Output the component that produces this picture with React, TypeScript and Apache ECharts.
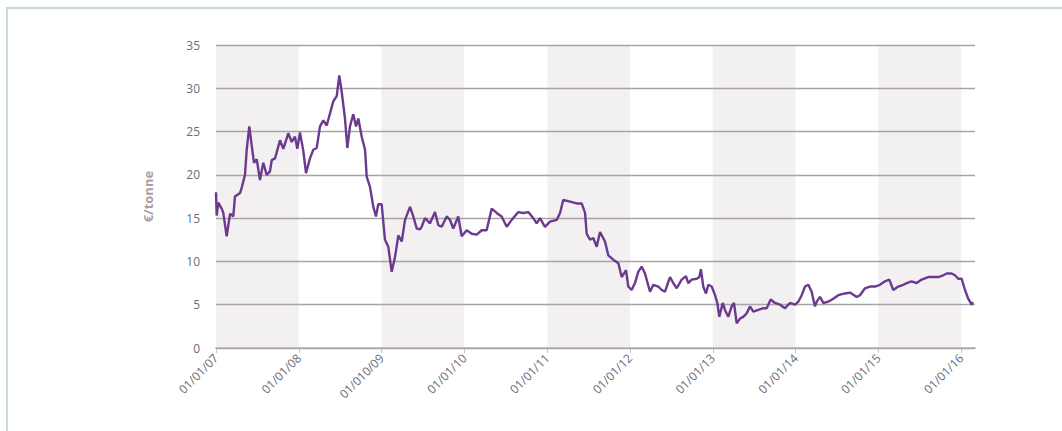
import React, { useEffect, useRef } from "react";
import * as echarts from "echarts";

// Decimal year of each observation
const dates: number[] = [
  2007.000, 2007.008, 2007.028, 2007.069, 2007.088, 2007.129, 2007.169, 2007.209, 2007.229, 2007.290,
  2007.310, 2007.350, 2007.371, 2007.402, 2007.431, 2007.459, 2007.492, 2007.531, 2007.571, 2007.612,
  2007.652, 2007.673, 2007.713, 2007.773, 2007.813, 2007.873, 2007.914, 2007.954, 2007.982, 2008.014,
  2008.054, 2008.087, 2008.135, 2008.175, 2008.216, 2008.256, 2008.296, 2008.337, 2008.377, 2008.417,
  2008.458, 2008.489, 2008.518, 2008.558, 2008.586, 2008.618, 2008.658, 2008.691, 2008.719, 2008.760,
  2008.800, 2008.820, 2008.860, 2008.900, 2008.932, 2008.960, 2009.001, 2009.041, 2009.081, 2009.122,
  2009.162, 2009.202, 2009.243, 2009.283, 2009.343, 2009.383, 2009.424, 2009.464, 2009.484, 2009.524,
  2009.585, 2009.645, 2009.685, 2009.726, 2009.786, 2009.826, 2009.866, 2009.926, 2009.967, 2010.028,
  2010.088, 2010.149, 2010.209, 2010.269, 2010.330, 2010.390, 2010.450, 2010.511, 2010.571, 2010.651,
  2010.711, 2010.772, 2010.832, 2010.873, 2010.913, 2010.973, 2011.034, 2011.115, 2011.155, 2011.194,
  2011.275, 2011.356, 2011.417, 2011.457, 2011.477, 2011.517, 2011.557, 2011.598, 2011.638, 2011.698,
  2011.738, 2011.798, 2011.859, 2011.900, 2011.952, 2011.979, 2012.020, 2012.060, 2012.100, 2012.141,
  2012.181, 2012.242, 2012.282, 2012.342, 2012.383, 2012.423, 2012.483, 2012.523, 2012.564, 2012.624,
  2012.676, 2012.704, 2012.745, 2012.806, 2012.837, 2012.857, 2012.885, 2012.918, 2012.946, 2012.987,
  2013.027, 2013.055, 2013.079, 2013.120, 2013.147, 2013.187, 2013.228, 2013.256, 2013.289, 2013.329,
  2013.368, 2013.409, 2013.449, 2013.489, 2013.550, 2013.610, 2013.651, 2013.699, 2013.751, 2013.812,
  2013.872, 2013.932, 2013.993, 2014.033, 2014.074, 2014.114, 2014.154, 2014.194, 2014.234, 2014.255,
  2014.295, 2014.335, 2014.395, 2014.455, 2014.516, 2014.597, 2014.657, 2014.738, 2014.778, 2014.838,
  2014.899, 2014.959, 2015.019, 2015.080, 2015.132, 2015.180, 2015.240, 2015.301, 2015.342, 2015.402,
  2015.462, 2015.523, 2015.602, 2015.663, 2015.723, 2015.784, 2015.825, 2015.885, 2015.925, 2015.965,
  2016.006, 2016.046, 2016.085, 2016.127, 2016.142,
];

// Price, €/tonne
const prices: number[] = [
  18.0, 15.3, 16.8, 16.1, 15.6, 12.9, 15.5, 15.2, 17.5, 17.9,
  18.5, 20.0, 22.9, 25.6, 23.4, 21.4, 21.8, 19.4, 21.4, 20.0,
  20.4, 21.7, 21.9, 24.0, 23.0, 24.8, 23.8, 24.4, 23.0, 24.9,
  22.8, 20.2, 21.9, 22.9, 23.1, 25.6, 26.3, 25.7, 27.1, 28.5,
  29.1, 31.5, 29.6, 26.5, 23.1, 25.6, 27.0, 25.6, 26.5, 24.4,
  22.9, 19.8, 18.6, 16.3, 15.2, 16.6, 16.6, 12.5, 11.7, 8.8,
  10.5, 13.0, 12.3, 14.8, 16.3, 15.2, 13.8, 13.7, 14.0, 15.0,
  14.4, 15.7, 14.2, 14.0, 15.2, 14.8, 13.8, 15.2, 12.9, 13.6,
  13.2, 13.1, 13.6, 13.6, 16.1, 15.6, 15.2, 14.0, 14.8, 15.7,
  15.6, 15.7, 15.0, 14.4, 15.0, 14.0, 14.6, 14.8, 15.6, 17.1,
  16.9, 16.7, 16.7, 15.6, 13.2, 12.5, 12.7, 11.7, 13.4, 12.3,
  10.7, 10.2, 9.8, 8.2, 9.0, 7.1, 6.7, 7.5, 8.8, 9.4,
  8.6, 6.5, 7.3, 7.1, 6.7, 6.5, 8.2, 7.5, 6.9, 7.9,
  8.3, 7.5, 7.9, 8.0, 8.2, 9.1, 7.1, 6.3, 7.3, 7.1,
  6.1, 5.2, 3.6, 5.2, 4.4, 3.6, 4.8, 5.2, 2.85, 3.4,
  3.6, 4.0, 4.8, 4.2, 4.4, 4.6, 4.6, 5.6, 5.2, 5.0,
  4.6, 5.2, 5.0, 5.35, 6.1, 7.1, 7.3, 6.5, 4.8, 5.35,
  5.9, 5.2, 5.35, 5.7, 6.1, 6.3, 6.4, 5.9, 6.1, 6.9,
  7.1, 7.1, 7.3, 7.7, 7.9, 6.7, 7.1, 7.3, 7.5, 7.7,
  7.5, 7.9, 8.2, 8.2, 8.2, 8.4, 8.6, 8.6, 8.4, 8.0,
  8.0, 6.7, 5.7, 5.0, 5.3,
];

const tickYears: number[] = [2007, 2008, 2009, 2010, 2011, 2012, 2013, 2014, 2015, 2016];
const tickLabels: string[] = [
  "01/01/07", "01/01/08", "01/010/09", "01/01/10", "01/01/11",
  "01/01/12", "01/01/13", "01/01/14", "01/01/15", "01/01/16",
];

export default function App() {
  const ref = useRef<HTMLDivElement>(null);

  useEffect(() => {
    if (!ref.current) return;
    const chart = echarts.init(ref.current, undefined, { renderer: "svg" });
    const font = "'Open Sans', 'DejaVu Sans', sans-serif";
    chart.setOption({
      animation: false,
      backgroundColor: "#ffffff",
      grid: { left: 216, right: 87, top: 45, bottom: 83, containLabel: false },
      graphic: [
        {
          type: "rect",
          silent: true,
          shape: { x: 7, y: 8, width: 1200, height: 600 },
          style: { fill: "none", stroke: "#c6d7de", lineWidth: 2 },
          z: 100,
        },
      ],
      xAxis: {
        type: "value",
        min: 2007,
        max: 2016.167,
        interval: 1,
        z: 0,
        axisLine: { show: true, lineStyle: { color: "#cdc9cb", width: 2 } },
        axisTick: {
          show: true,
          length: 5,
          customValues: tickYears,
          lineStyle: { color: "#c9c5c7", width: 1 },
        },
        axisLabel: {
          customValues: tickYears,
          rotate: 45,
          margin: 8,
          fontSize: 12,
          fontFamily: font,
          color: "#6a6d78",
          formatter: (v: number) => {
            const i = tickYears.indexOf(Math.round(v));
            return i >= 0 ? tickLabels[i] : "";
          },
        },
        splitLine: { show: false },
        splitArea: {
          show: true,
          areaStyle: { color: ["#f2f0f1", "#ffffff"] },
        },
      },
      yAxis: {
        type: "value",
        min: 0,
        max: 35,
        interval: 5,
        z: 1,
        name: "€/tonne",
        nameLocation: "middle",
        nameGap: 62,
        nameRotate: 90,
        nameTextStyle: {
          fontSize: 13,
          fontWeight: "bold",
          fontFamily: font,
          color: "#a59fa1",
        },
        axisLine: { show: false },
        axisTick: { show: false },
        axisLabel: {
          margin: 16,
          fontSize: 12,
          fontFamily: font,
          color: "#6a6d78",
        },
        splitLine: { show: true, lineStyle: { color: "#aaa3a6", width: 1.3 } },
      },
      series: [
        {
          type: "line",
          data: dates.map((d, i) => [d, prices[i]]),
          showSymbol: false,
          symbol: "none",
          lineStyle: { color: "#6b3a8e", width: 2.4 },
          z: 3,
        },
      ],
    });
    return () => chart.dispose();
  }, []);

  return (
    <div
      ref={ref}
      style={{ position: "fixed", left: 0, top: 0, width: 1062, height: 431 }}
    />
  );
}
